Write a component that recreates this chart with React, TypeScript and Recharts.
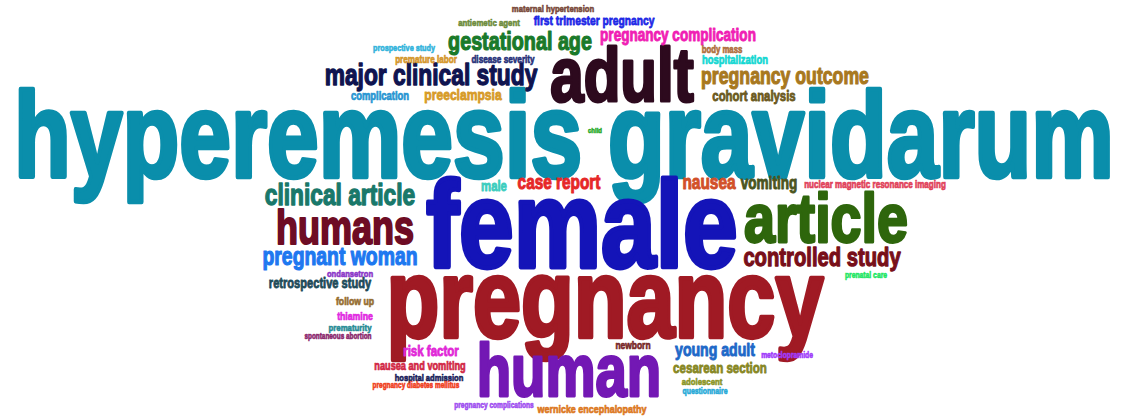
import { ScatterChart, Scatter, XAxis, YAxis } from 'recharts';

// word cloud terms, their layout coordinates (cloud units) and weights
const words = [
    'hyperemesis gravidarum', 'female', 'pregnancy', 'adult', 'human', 'article', 'humans',
    'major clinical study', 'gestational age', 'pregnancy complication', 'first trimester pregnancy',
    'maternal hypertension', 'antiemetic agent', 'prospective study', 'premature labor', 'disease severity',
    'body mass', 'hospitalization', 'pregnancy outcome', 'cohort analysis', 'complication', 'preeclampsia',
    'child', 'male', 'case report', 'nausea', 'vomiting', 'nuclear magnetic resonance imaging',
    'clinical article', 'controlled study', 'pregnant woman', 'ondansetron', 'retrospective study',
    'follow up', 'thiamine', 'prematurity', 'spontaneous abortion', 'risk factor', 'nausea and vomiting',
    'hospital admission', 'pregnancy diabetes mellitus', 'newborn', 'young adult', 'metoclopramide',
    'cesarean section', 'adolescent', 'questionnaire', 'wernicke encephalopathy', 'pregnancy complications',
    'prenatal care',
];
const xs = [
    564, 582, 605, 622, 569, 826, 345,
    431, 520, 678, 594,
    553, 489, 404, 426, 503,
    722, 735, 785, 754, 380, 463,
    595, 494, 559, 709, 769, 875,
    340, 822, 340, 350, 320,
    355, 355, 350, 338, 431, 420,
    429, 416, 633, 715, 787,
    720, 702, 705, 592, 494,
    866,
];
const ys = [
    177, 267, 337, 101, 396, 242, 244,
    85, 50, 41, 25,
    12, 26, 51, 63, 63,
    53, 64, 84, 101, 100, 100,
    133, 191, 189, 189, 189, 188,
    205, 266, 265, 277, 288,
    305, 320, 331, 339, 356, 370,
    381, 388, 349, 356, 358,
    373, 385, 394, 413, 408,
    278,
];
const weights = [
    110, 112, 102, 69, 67, 62, 43,
    27, 23, 16, 12,
    9, 9, 8.6, 9.5, 9.6,
    9.5, 11, 21, 13.5, 11, 14,
    7, 13, 18, 18, 16, 9.5,
    26, 24, 23, 9, 13,
    10.5, 10, 9, 7.6, 13.5, 11,
    9, 7.6, 10, 17, 7.8,
    13.5, 9, 8, 10.5, 7.8,
    7.8,
];
const palette = [
    '#0a8eab', '#1414b8', '#a01a24', '#2d0a1e', '#7318b4', '#2e660c', '#6e0c24',
    '#0f1450', '#1a7a2a', '#f01eb4', '#1e28e6',
    '#7a4a3a', '#6e8c3c', '#32b4dc', '#d4962a', '#28327a',
    '#b06e3c', '#14d7d2', '#a8781e', '#6b5a1e', '#2896d2', '#d79b28',
    '#28aa28', '#3ccdbe', '#e62828', '#d2502a', '#4b551e', '#e1415a',
    '#19786a', '#780f19', '#1e78f0', '#8c37c8', '#1e4b5a',
    '#966e32', '#e128e1', '#288c96', '#8c286e', '#e128d7', '#d22846',
    '#191e5a', '#f0411e', '#782828', '#1e69c8', '#a03cfa',
    '#878723', '#8c9628', '#28aad7', '#dc781e', '#a050f0',
    '#1ee664',
];

// approximate advance widths (em) of a heavy condensed face
const charEm: Record<string, number> = {
    a: 0.55, b: 0.56, c: 0.54, d: 0.56, e: 0.55, f: 0.33, g: 0.56, h: 0.56, i: 0.28, j: 0.28,
    k: 0.52, l: 0.28, m: 0.83, n: 0.56, o: 0.55, p: 0.56, q: 0.56, r: 0.38, s: 0.51, t: 0.36,
    u: 0.56, v: 0.5, w: 0.74, x: 0.5, y: 0.5, z: 0.43, ' ': 0.18,
};
const wordEm = (w: string) => w.split('').reduce((s, c) => s + (charEm[c] ?? 0.5), 0) * 0.9;

const data = words.map((word, i) => ({ word, x: xs[i], y: ys[i], weight: weights[i], color: palette[i] }));

const WordShape = (props: any) => {
    const { cx, cy, payload } = props;
    const f = payload.weight;
    return (
        <text
            x={cx}
            y={cy}
            textAnchor="middle"
            fontFamily="'Liberation Sans Narrow', 'Liberation Sans', Arial, sans-serif"
            fontWeight="bold"
            fontSize={f * 1.1}
            textLength={wordEm(payload.word) * f}
            lengthAdjust="spacingAndGlyphs"
            fill={payload.color}
            stroke={payload.color}
            strokeWidth={f * 0.04 + 0.3}
            strokeLinejoin="round"
        >
            {payload.word}
        </text>
    );
};

export default function App() {
    return (
        <div style={{ position: 'fixed', left: 0, top: 0, background: '#fff' }}>
            <ScatterChart width={1123} height={418} margin={{ top: 0, right: 0, bottom: 0, left: 0 }}>
                <XAxis type="number" dataKey="x" domain={[0, 1123]} hide />
                <YAxis type="number" dataKey="y" domain={[0, 418]} reversed hide />
                <Scatter data={data} shape={WordShape} isAnimationActive={false} />
            </ScatterChart>
        </div>
    );
}
